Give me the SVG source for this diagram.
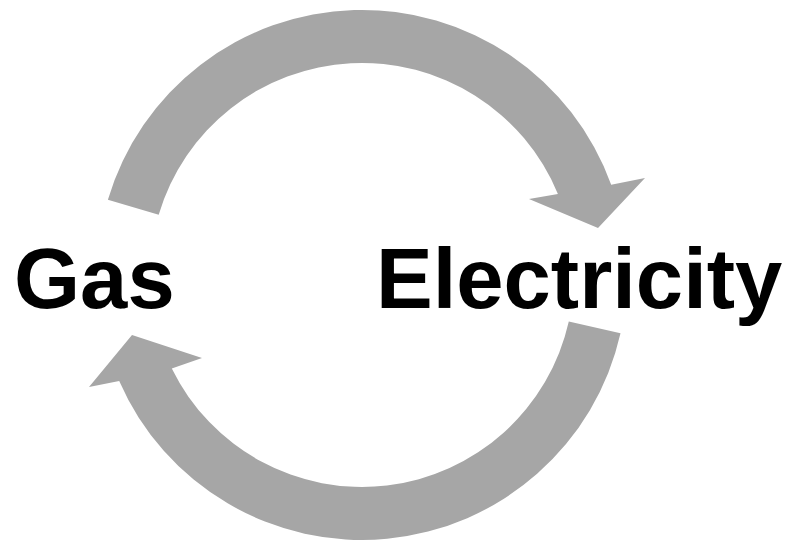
<svg xmlns="http://www.w3.org/2000/svg" width="788" height="541" viewBox="0 0 788 541">
<style>
.arrow{fill:#A6A6A6;stroke:none}
.lbl{font-family:"Liberation Sans",Arial,sans-serif;font-weight:bold;font-size:85px;fill:#000}
</style>
<rect width="788" height="541" fill="#fff"/>
<g id="connectors">
<path id="arrow-gas-to-electricity" class="arrow" d="M107.9,199.7 A265,265 0 0 1 611.2,184.8 L645,178 L598,228 L529,199 L557.9,193.9 A212,212 0 0 0 158.7,214.8 Z"/>
<path id="arrow-electricity-to-gas" class="arrow" d="M620.5,333.3 A265,265 0 0 1 119.2,381.1 L89,387 L132,335 L202,358 L171.8,368.6 A212,212 0 0 0 568.8,321.6 Z"/>
</g>
<g id="node-gas"><text class="lbl" x="14" y="307.5">Gas</text></g>
<g id="node-electricity"><text class="lbl" x="376" y="307.5">Electricity</text></g>
</svg>
